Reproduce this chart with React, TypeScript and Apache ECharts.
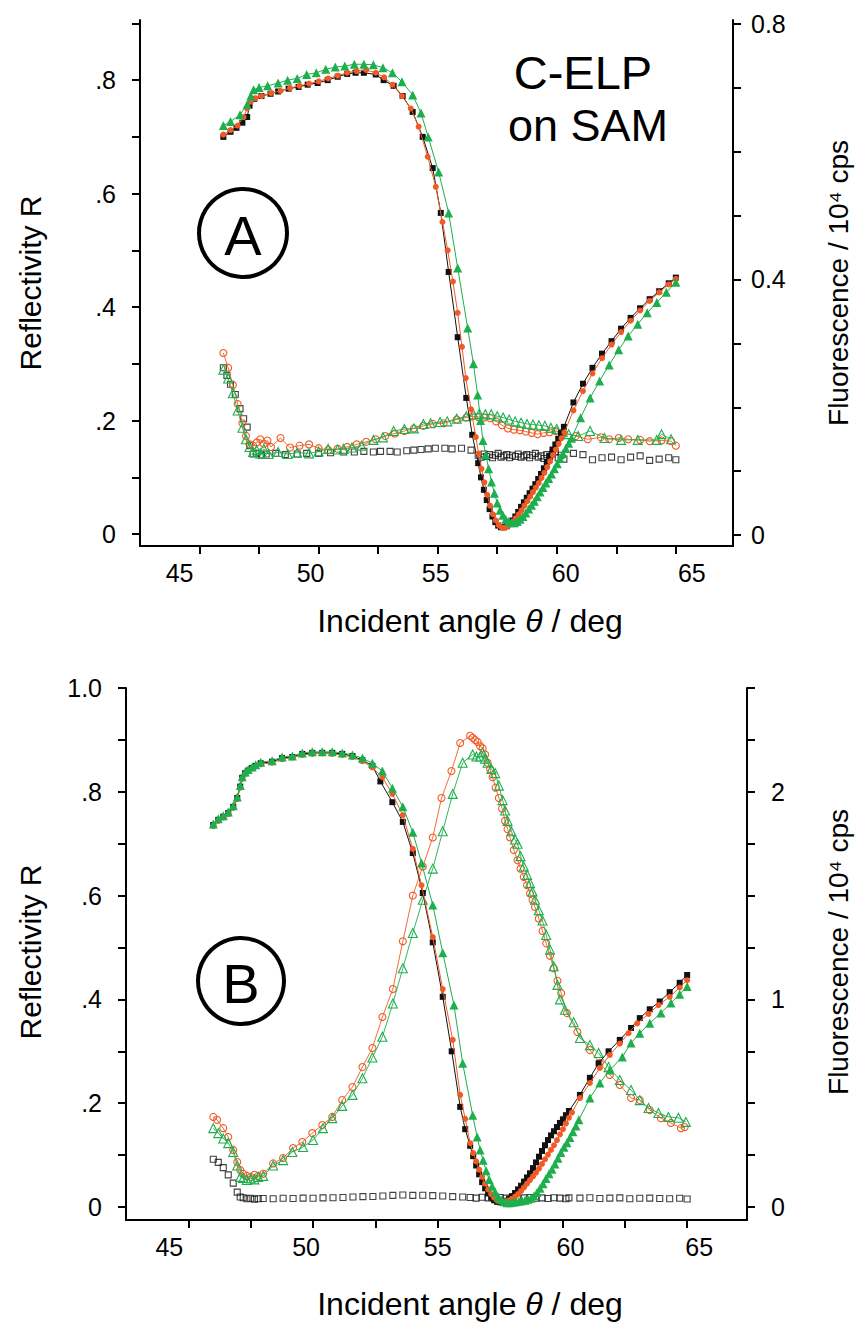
import React, { useEffect, useRef } from 'react';
import * as echarts from 'echarts';

const FONT = '"Liberation Sans", Arial, Helvetica, sans-serif';
const BLACK = '#111111';
const ORANGE = '#f15a24';
const GREEN = '#1daf4e';

// ---------- Panel A : reflectivity (left axis) ----------
const aReflBlack = [[46.0,0.700],[46.3,0.709],[46.55,0.716],[46.8,0.725],[47.0,0.735],[47.1,0.755],[47.3,0.767],[47.6,0.772],[47.98,0.776],[48.3,0.780],[48.74,0.785],[49.16,0.788],[49.54,0.792],[49.96,0.795],[50.38,0.800],[50.8,0.806],[51.2,0.811],[51.55,0.813],[51.9,0.813],[52.4,0.810],[52.73,0.800],[53.15,0.790],[53.53,0.772],[53.95,0.744],[54.37,0.700],[54.79,0.645],[55.13,0.566],[55.46,0.462],[55.84,0.347],[56.2,0.240],[56.45,0.175],[56.7,0.125],[56.82,0.100],[56.94,0.078],[57.06,0.060],[57.18,0.044],[57.3,0.031],[57.42,0.021],[57.54,0.015],[57.66,0.012],[57.78,0.012],[57.9,0.014],[58.02,0.018],[58.14,0.024],[58.26,0.031],[58.38,0.039],[58.5,0.048],[58.62,0.056],[58.74,0.064],[58.86,0.072],[58.98,0.080],[59.1,0.088],[59.22,0.097],[59.34,0.106],[59.46,0.116],[59.58,0.127],[59.7,0.138],[59.82,0.149],[59.94,0.158],[60.06,0.168],[60.18,0.178],[60.3,0.189],[60.7,0.232],[61.1,0.265],[61.5,0.293],[61.9,0.318],[62.3,0.340],[62.7,0.362],[63.1,0.381],[63.5,0.398],[63.9,0.414],[64.3,0.428],[64.7,0.442],[65.0,0.452]];
const aReflOrange = [[46.0,0.704],[46.3,0.712],[46.6,0.720],[46.85,0.735],[47.0,0.750],[47.15,0.762],[47.35,0.768],[47.6,0.772],[48.0,0.777],[48.4,0.781],[48.8,0.786],[49.2,0.790],[49.6,0.794],[50.0,0.798],[50.4,0.803],[50.8,0.808],[51.2,0.813],[51.6,0.816],[52.0,0.818],[52.4,0.813],[52.75,0.805],[53.1,0.792],[53.5,0.772],[53.87,0.750],[54.2,0.718],[54.58,0.665],[54.92,0.612],[55.2,0.550],[55.42,0.500],[55.64,0.445],[55.84,0.390],[56.02,0.330],[56.18,0.275],[56.4,0.220],[56.6,0.171],[56.72,0.142],[56.84,0.115],[56.96,0.091],[57.08,0.069],[57.2,0.050],[57.32,0.035],[57.44,0.024],[57.56,0.016],[57.68,0.012],[57.8,0.011],[57.92,0.013],[58.04,0.017],[58.16,0.022],[58.28,0.028],[58.4,0.035],[58.52,0.042],[58.64,0.050],[58.76,0.058],[58.88,0.066],[59.0,0.074],[59.12,0.082],[59.24,0.090],[59.36,0.099],[59.48,0.108],[59.6,0.118],[59.72,0.128],[59.84,0.139],[59.96,0.149],[60.08,0.159],[60.2,0.169],[60.32,0.179],[60.7,0.218],[61.1,0.252],[61.5,0.283],[61.9,0.310],[62.3,0.334],[62.7,0.356],[63.1,0.376],[63.5,0.394],[63.9,0.411],[64.3,0.426],[64.7,0.440],[65.0,0.450]];
const aReflGreen = [[46.0,0.720],[46.3,0.727],[46.7,0.739],[47.0,0.757],[47.15,0.772],[47.27,0.783],[47.5,0.787],[47.86,0.790],[48.3,0.795],[48.7,0.800],[49.1,0.803],[49.5,0.810],[49.9,0.813],[50.3,0.819],[50.7,0.823],[51.1,0.825],[51.5,0.828],[51.9,0.828],[52.3,0.827],[52.7,0.822],[53.1,0.813],[53.5,0.797],[53.95,0.774],[54.3,0.742],[54.6,0.700],[55.04,0.638],[55.46,0.566],[55.84,0.469],[56.26,0.363],[56.5,0.300],[56.68,0.245],[56.8,0.200],[56.9,0.165],[57.02,0.140],[57.14,0.115],[57.26,0.092],[57.38,0.072],[57.5,0.055],[57.62,0.042],[57.74,0.033],[57.86,0.026],[57.98,0.022],[58.1,0.020],[58.22,0.020],[58.34,0.022],[58.46,0.026],[58.58,0.031],[58.7,0.037],[58.82,0.044],[58.94,0.051],[59.06,0.058],[59.18,0.066],[59.3,0.074],[59.42,0.082],[59.54,0.090],[59.66,0.098],[59.78,0.106],[59.9,0.115],[60.02,0.124],[60.14,0.133],[60.26,0.142],[60.38,0.151],[60.5,0.160],[60.62,0.169],[61.0,0.205],[61.4,0.240],[61.8,0.270],[62.2,0.298],[62.6,0.325],[63.0,0.349],[63.4,0.370],[63.8,0.390],[64.2,0.408],[64.6,0.426],[65.0,0.444]];

// ---------- Panel A : fluorescence (right axis, 10^4 cps) ----------
const aFluoBlack = [[46.0,0.262],[46.15,0.250],[46.3,0.236],[46.5,0.220],[46.7,0.198],[46.85,0.182],[47.0,0.169],[47.1,0.140],[47.25,0.127],[47.4,0.128],[47.6,0.125],[47.8,0.127],[48.2,0.128],[48.6,0.126],[49.1,0.127],[49.5,0.128],[50.0,0.128],[50.5,0.129],[51.05,0.130],[51.5,0.130],[51.9,0.131],[52.3,0.130],[52.6,0.131],[53.0,0.131],[53.3,0.130],[53.7,0.132],[54.0,0.133],[54.3,0.134],[54.6,0.135],[54.9,0.136],[55.3,0.136],[55.6,0.135],[56.0,0.136],[56.4,0.133],[56.7,0.125],[56.82,0.122],[56.94,0.127],[57.06,0.123],[57.18,0.126],[57.3,0.121],[57.42,0.125],[57.54,0.128],[57.66,0.122],[57.78,0.124],[57.9,0.126],[58.02,0.121],[58.14,0.125],[58.26,0.123],[58.38,0.127],[58.5,0.122],[58.62,0.124],[58.74,0.126],[58.86,0.121],[58.98,0.125],[59.1,0.128],[59.22,0.122],[59.34,0.124],[59.46,0.120],[59.58,0.126],[59.7,0.123],[59.82,0.127],[59.94,0.130],[60.06,0.121],[60.18,0.125],[60.3,0.119],[60.7,0.128],[61.1,0.126],[61.5,0.118],[61.9,0.121],[62.3,0.122],[62.7,0.118],[63.1,0.122],[63.5,0.124],[63.9,0.117],[64.3,0.119],[64.7,0.121],[65.0,0.118]];
const aFluoOrange = [[46.0,0.285],[46.2,0.262],[46.4,0.235],[46.6,0.205],[46.8,0.175],[46.95,0.155],[47.1,0.142],[47.25,0.140],[47.4,0.145],[47.55,0.150],[47.7,0.143],[47.85,0.148],[48.0,0.138],[48.4,0.152],[48.8,0.137],[49.2,0.140],[49.6,0.142],[50.0,0.136],[50.4,0.133],[50.8,0.135],[51.2,0.138],[51.6,0.142],[52.0,0.146],[52.4,0.150],[52.8,0.155],[53.2,0.159],[53.6,0.163],[54.0,0.167],[54.4,0.171],[54.8,0.174],[55.25,0.175],[55.8,0.181],[56.2,0.184],[56.45,0.186],[56.7,0.185],[56.95,0.184],[57.2,0.183],[57.45,0.178],[57.7,0.172],[57.95,0.167],[58.2,0.165],[58.45,0.164],[58.7,0.162],[58.95,0.160],[59.2,0.158],[59.45,0.160],[59.7,0.161],[59.95,0.163],[60.2,0.160],[60.8,0.155],[61.3,0.150],[61.85,0.153],[62.2,0.150],[62.6,0.152],[63.0,0.150],[63.5,0.149],[63.9,0.147],[64.4,0.148],[64.8,0.147],[65.0,0.140]];
const aFluoGreen = [[46.0,0.259],[46.2,0.245],[46.4,0.222],[46.6,0.195],[46.8,0.168],[46.95,0.150],[47.1,0.138],[47.25,0.130],[47.4,0.133],[47.55,0.128],[47.7,0.135],[47.9,0.127],[48.3,0.130],[48.7,0.127],[49.1,0.129],[49.6,0.128],[50.0,0.131],[50.4,0.135],[50.8,0.134],[51.05,0.135],[51.4,0.137],[51.8,0.140],[52.3,0.149],[52.7,0.153],[53.15,0.163],[53.6,0.166],[54.0,0.167],[54.4,0.174],[54.7,0.175],[55.1,0.177],[55.4,0.178],[55.8,0.182],[56.2,0.186],[56.5,0.189],[56.75,0.190],[57.0,0.189],[57.25,0.189],[57.5,0.186],[57.75,0.184],[58.0,0.181],[58.25,0.178],[58.5,0.176],[58.75,0.174],[59.0,0.173],[59.25,0.172],[59.5,0.171],[59.75,0.168],[60.0,0.166],[60.25,0.162],[60.5,0.158],[60.9,0.155],[61.4,0.163],[62.0,0.152],[62.7,0.149],[63.4,0.149],[64.2,0.149],[64.4,0.158],[64.8,0.150]];

// ---------- Panel B : reflectivity (left axis) ----------
const bReflBlack = [[46.0,0.736],[46.2,0.746],[46.4,0.752],[46.6,0.759],[46.8,0.771],[46.96,0.788],[47.08,0.810],[47.16,0.827],[47.28,0.836],[47.4,0.841],[47.56,0.846],[47.7,0.850],[47.9,0.855],[48.36,0.858],[48.76,0.865],[49.17,0.867],[49.57,0.873],[49.97,0.875],[50.37,0.875],[50.77,0.875],[51.17,0.873],[51.58,0.869],[51.98,0.861],[52.38,0.850],[52.7,0.820],[53.18,0.780],[53.6,0.742],[54.0,0.682],[54.4,0.605],[54.8,0.510],[55.2,0.405],[55.56,0.300],[55.9,0.193],[56.1,0.150],[56.3,0.118],[56.42,0.098],[56.54,0.080],[56.66,0.063],[56.78,0.048],[56.9,0.036],[57.02,0.026],[57.14,0.018],[57.26,0.013],[57.38,0.010],[57.5,0.009],[57.62,0.010],[57.74,0.012],[57.86,0.016],[57.98,0.021],[58.1,0.027],[58.22,0.034],[58.34,0.041],[58.46,0.049],[58.58,0.057],[58.7,0.065],[58.82,0.075],[58.94,0.086],[59.06,0.097],[59.18,0.108],[59.3,0.119],[59.42,0.129],[59.54,0.138],[59.66,0.146],[59.78,0.154],[59.9,0.162],[60.02,0.169],[60.14,0.177],[60.26,0.185],[60.7,0.216],[61.1,0.249],[61.45,0.277],[61.85,0.300],[62.3,0.322],[62.75,0.345],[63.1,0.364],[63.5,0.381],[63.9,0.396],[64.3,0.414],[64.7,0.432],[65.0,0.447]];
const bReflOrange = [[46.0,0.734],[46.2,0.744],[46.4,0.750],[46.6,0.757],[46.8,0.769],[46.96,0.786],[47.08,0.808],[47.16,0.825],[47.28,0.834],[47.4,0.840],[47.56,0.845],[47.7,0.849],[47.9,0.853],[48.36,0.856],[48.76,0.863],[49.17,0.866],[49.57,0.871],[49.97,0.873],[50.37,0.874],[50.77,0.873],[51.17,0.871],[51.58,0.867],[51.98,0.859],[52.38,0.847],[52.78,0.828],[53.18,0.796],[53.6,0.755],[54.0,0.690],[54.35,0.620],[54.8,0.520],[55.2,0.420],[55.6,0.322],[55.9,0.216],[56.1,0.170],[56.3,0.123],[56.42,0.104],[56.54,0.088],[56.66,0.072],[56.78,0.058],[56.9,0.045],[57.02,0.034],[57.14,0.025],[57.26,0.018],[57.38,0.013],[57.5,0.011],[57.62,0.010],[57.74,0.011],[57.86,0.013],[57.98,0.016],[58.1,0.020],[58.22,0.025],[58.34,0.031],[58.46,0.038],[58.58,0.045],[58.7,0.052],[58.82,0.059],[58.94,0.066],[59.06,0.074],[59.18,0.083],[59.3,0.092],[59.42,0.101],[59.54,0.110],[59.66,0.119],[59.78,0.129],[59.9,0.140],[60.02,0.150],[60.14,0.161],[60.26,0.172],[60.38,0.182],[60.7,0.210],[61.1,0.239],[61.5,0.268],[61.9,0.293],[62.3,0.315],[62.65,0.335],[63.0,0.354],[63.45,0.372],[63.85,0.389],[64.3,0.405],[64.7,0.423],[65.0,0.437]];
const bReflGreen = [[46.0,0.738],[46.2,0.748],[46.4,0.754],[46.6,0.761],[46.8,0.773],[46.96,0.790],[47.08,0.812],[47.16,0.829],[47.28,0.838],[47.4,0.843],[47.56,0.848],[47.7,0.852],[47.9,0.857],[48.36,0.860],[48.76,0.867],[49.17,0.869],[49.57,0.875],[49.97,0.877],[50.37,0.877],[50.77,0.877],[51.17,0.875],[51.58,0.871],[51.98,0.865],[52.38,0.855],[52.78,0.840],[53.18,0.807],[53.6,0.771],[54.0,0.722],[54.35,0.663],[54.8,0.582],[55.2,0.490],[55.65,0.389],[56.0,0.277],[56.4,0.177],[56.58,0.135],[56.7,0.110],[56.82,0.090],[56.94,0.070],[57.06,0.053],[57.18,0.040],[57.3,0.029],[57.42,0.020],[57.54,0.014],[57.66,0.010],[57.78,0.008],[57.9,0.008],[58.02,0.009],[58.14,0.010],[58.26,0.011],[58.38,0.012],[58.5,0.013],[58.62,0.015],[58.74,0.017],[58.86,0.021],[58.98,0.028],[59.1,0.036],[59.22,0.045],[59.34,0.055],[59.46,0.064],[59.58,0.073],[59.7,0.083],[59.82,0.094],[59.94,0.105],[60.06,0.115],[60.18,0.124],[60.3,0.134],[60.42,0.145],[60.54,0.156],[60.66,0.168],[61.1,0.210],[61.5,0.239],[61.9,0.264],[62.4,0.289],[62.75,0.316],[63.1,0.335],[63.5,0.354],[63.95,0.374],[64.35,0.393],[64.7,0.410],[65.0,0.425]];

// ---------- Panel B : fluorescence (right axis, 10^4 cps) ----------
const bFluoBlack = [[46.0,0.230],[46.2,0.215],[46.4,0.190],[46.6,0.155],[46.8,0.115],[46.96,0.072],[47.08,0.048],[47.2,0.045],[47.35,0.040],[47.5,0.042],[47.65,0.038],[47.8,0.040],[48.0,0.041],[48.4,0.040],[48.8,0.042],[49.2,0.041],[49.6,0.043],[50.0,0.042],[50.4,0.044],[50.8,0.045],[51.2,0.046],[51.6,0.048],[52.0,0.050],[52.4,0.051],[52.8,0.053],[53.2,0.056],[53.6,0.058],[54.0,0.056],[54.4,0.057],[54.8,0.055],[55.2,0.053],[55.6,0.050],[56.0,0.048],[56.3,0.046],[56.54,0.043],[56.78,0.047],[57.02,0.044],[57.26,0.042],[57.5,0.046],[57.74,0.043],[57.98,0.045],[58.22,0.041],[58.46,0.044],[58.7,0.046],[58.94,0.042],[59.18,0.044],[59.42,0.041],[59.66,0.045],[59.9,0.043],[60.14,0.040],[60.26,0.044],[60.7,0.043],[61.1,0.045],[61.5,0.041],[61.9,0.043],[62.3,0.044],[62.7,0.040],[63.1,0.042],[63.5,0.043],[63.9,0.041],[64.3,0.040],[64.7,0.042],[65.0,0.039]];
const bFluoOrange = [[46.0,0.434],[46.15,0.420],[46.4,0.380],[46.6,0.337],[46.8,0.275],[46.96,0.217],[47.08,0.178],[47.2,0.160],[47.35,0.150],[47.5,0.145],[47.65,0.155],[47.8,0.150],[48.0,0.160],[48.4,0.210],[48.8,0.236],[49.2,0.284],[49.57,0.313],[49.97,0.356],[50.37,0.395],[50.77,0.434],[51.17,0.515],[51.58,0.578],[51.98,0.674],[52.38,0.766],[52.78,0.915],[53.2,1.05],[53.6,1.28],[54.0,1.50],[54.4,1.64],[54.8,1.78],[55.15,1.97],[55.55,2.10],[55.9,2.235],[56.3,2.27],[56.4,2.26],[56.5,2.25],[56.6,2.24],[56.7,2.22],[56.8,2.21],[56.9,2.18],[57.0,2.14],[57.1,2.11],[57.2,2.07],[57.32,2.02],[57.45,1.97],[57.58,1.92],[57.7,1.86],[57.8,1.82],[57.9,1.78],[58.05,1.72],[58.2,1.67],[58.32,1.63],[58.45,1.59],[58.58,1.55],[58.7,1.51],[58.8,1.48],[58.9,1.445],[59.05,1.39],[59.2,1.33],[59.35,1.27],[59.5,1.21],[59.65,1.15],[59.8,1.09],[59.95,1.03],[60.18,0.934],[60.6,0.843],[61.1,0.756],[61.5,0.694],[61.9,0.636],[62.3,0.588],[62.75,0.525],[63.1,0.515],[63.5,0.467],[63.95,0.428],[64.35,0.405],[64.75,0.380],[64.9,0.385]];
const bFluoGreen = [[46.0,0.380],[46.2,0.356],[46.4,0.330],[46.6,0.308],[46.8,0.265],[46.96,0.200],[47.08,0.145],[47.2,0.140],[47.35,0.130],[47.5,0.138],[47.65,0.133],[47.8,0.145],[48.0,0.150],[48.4,0.200],[48.8,0.226],[49.17,0.265],[49.6,0.289],[50.0,0.323],[50.4,0.380],[50.77,0.428],[51.17,0.487],[51.58,0.540],[51.98,0.620],[52.38,0.720],[52.78,0.820],[53.2,0.980],[53.6,1.15],[54.0,1.32],[54.4,1.48],[54.8,1.63],[55.2,1.81],[55.6,1.99],[56.0,2.14],[56.4,2.18],[56.55,2.17],[56.7,2.17],[56.8,2.19],[56.9,2.16],[57.0,2.14],[57.15,2.11],[57.3,2.09],[57.45,2.03],[57.6,1.96],[57.7,1.91],[57.8,1.86],[57.95,1.81],[58.1,1.77],[58.2,1.75],[58.32,1.69],[58.45,1.64],[58.58,1.60],[58.7,1.56],[58.8,1.52],[58.9,1.48],[59.05,1.43],[59.2,1.38],[59.35,1.31],[59.5,1.24],[59.65,1.16],[59.8,1.07],[59.9,1.00],[60.1,0.950],[60.45,0.890],[60.7,0.814],[61.1,0.780],[61.45,0.742],[61.85,0.674],[62.3,0.612],[62.75,0.564],[63.1,0.515],[63.45,0.477],[63.85,0.453],[64.25,0.434],[64.65,0.430],[64.95,0.410]];

// ---------- tick values ----------
const xTickValues = [45, 47.5, 50, 52.5, 55, 57.5, 60, 62.5, 65];
const xLabelValues = [45, 50, 55, 60, 65];
const aLeftTicks = [0, 0.1, 0.2, 0.3, 0.4, 0.5, 0.6, 0.7, 0.8, 0.9];
const aLeftLabels = [0, 0.2, 0.4, 0.6, 0.8];
const aRightTicks = [0, 0.1, 0.2, 0.3, 0.4, 0.5, 0.6, 0.7, 0.8];
const aRightLabels = [0, 0.4, 0.8];
const bLeftTicks = [0, 0.1, 0.2, 0.3, 0.4, 0.5, 0.6, 0.7, 0.8, 0.9, 1.0];
const bLeftLabels = [0, 0.2, 0.4, 0.6, 0.8, 1.0];
const bRightTicks = [0, 0.25, 0.5, 0.75, 1, 1.25, 1.5, 1.75, 2, 2.25, 2.5];
const bRightLabels = [0, 1, 2];

const leftFmt = (v: number) => (v === 0 ? '0' : v >= 0.999 ? '1.0' : '.' + Math.round(v * 10));
const LABEL_SIZE = 25;

// horizontal nudges of the x tick labels (the printed labels sit slightly off their ticks)
function xLabelRich(shifts: number[]) {
  const rich: any = {};
  xLabelValues.forEach((v, i) => {
    const s = shifts[i];
    rich['s' + v] = {
      fontSize: LABEL_SIZE, fontFamily: FONT, color: '#000',
      padding: s < 0 ? [0, -2 * s, 0, 0] : [0, 0, 0, 2 * s],
    };
  });
  return rich;
}

function axisBase() {
  return {
    type: 'value' as const,
    axisLine: { show: true, onZero: false, lineStyle: { color: '#000', width: 2 } },
    axisTick: { show: true, inside: false, length: 8, lineStyle: { color: '#000', width: 2 } },
    axisLabel: { color: '#000', fontSize: LABEL_SIZE, fontFamily: FONT },
    splitLine: { show: false },
  };
}

function xAxis(grid: number, shifts: number[]) {
  const b = axisBase();
  return {
    ...b,
    gridIndex: grid,
    position: 'bottom',
    min: 42.5,
    max: 67.4,
    axisTick: { ...b.axisTick, customValues: xTickValues },
    axisLabel: {
      ...b.axisLabel, customValues: xLabelValues, margin: 14,
      formatter: (v: number) => '{s' + v + '|' + v + '}',
      rich: xLabelRich(shifts),
    },
  };
}

function yAxis(grid: number, pos: 'left' | 'right', min: number, max: number, ticks: number[], labels: number[], fmt: (v: number) => string, margin: number) {
  const b = axisBase();
  return {
    ...b,
    gridIndex: grid,
    position: pos,
    min,
    max,
    axisTick: { ...b.axisTick, customValues: ticks },
    axisLabel: { ...b.axisLabel, customValues: labels, formatter: fmt, margin },
  };
}

function reflSeries(data: number[][], xi: number, yi: number, color: string, symbol: string, size: number, z: number) {
  return {
    type: 'line', xAxisIndex: xi, yAxisIndex: yi, data, symbol, symbolSize: size,
    itemStyle: { color }, lineStyle: { color, width: 1 }, z, silent: true,
  };
}

function fluoSeries(data: number[][], xi: number, yi: number, color: string, symbol: string, size: number, z: number, withLine: boolean) {
  return {
    type: withLine ? 'line' : 'scatter', xAxisIndex: xi, yAxisIndex: yi, data, symbol, symbolSize: size,
    itemStyle: { color: 'rgba(255,255,255,0)', borderColor: color, borderWidth: 1.1 },
    lineStyle: { color, width: 0.9 }, z, silent: true,
  };
}

const ALIGN = { align: 'center', verticalAlign: 'middle', textAlign: 'center', textVerticalAlign: 'middle' };

function vText(x: number, y: number, text: string, fontSize: number) {
  return {
    type: 'text', x, y, rotation: Math.PI / 2,
    style: { text, fontSize, fontFamily: FONT, fill: '#000', ...ALIGN },
  };
}
function hText(x: number, y: number, text: string, fontSize: number) {
  return {
    type: 'text', x, y,
    style: { text, fontSize, fontFamily: FONT, fill: '#000', ...ALIGN },
  };
}
function xTitle(x: number, y: number) {
  return {
    type: 'text', x, y,
    style: {
      text: '{n|Incident angle }{i|\u03b8}{n| / deg}',
      fontSize: 32, fontFamily: FONT, fill: '#000', ...ALIGN,
      rich: {
        n: { fontSize: 32, fontFamily: FONT, fill: '#000', color: '#000' },
        i: { fontSize: 32, fontFamily: FONT, fontStyle: 'italic', fill: '#000', color: '#000' },
      },
    },
  };
}

export default function App() {
  const ref = useRef<HTMLDivElement>(null);
  useEffect(() => {
    const chart = echarts.init(ref.current!, null, { renderer: 'svg' });
    const option: any = {
      animation: false,
      backgroundColor: '#fff',
      grid: [
        { left: 140, top: 20, width: 593, height: 526 },
        { left: 126, top: 688, width: 621, height: 532 },
      ],
      xAxis: [xAxis(0, [-20, -8, -2, 9, 16]), xAxis(1, [-19, -7, 0, 8, 12])],
      yAxis: [
        yAxis(0, 'left', -0.021, 0.906, aLeftTicks, aLeftLabels, leftFmt, 24),
        yAxis(0, 'right', -0.017, 0.806, aRightTicks, aRightLabels, (v: number) => (v === 0 ? '0' : v.toFixed(1)), 18),
        yAxis(1, 'left', -0.025, 1.0, bLeftTicks, bLeftLabels, leftFmt, 24),
        yAxis(1, 'right', -0.0625, 2.5, bRightTicks, bRightLabels, (v: number) => String(v), 24),
      ],
      series: [
        fluoSeries(aFluoBlack, 0, 1, BLACK, 'rect', 6, 2, false),
        fluoSeries(aFluoOrange, 0, 1, ORANGE, 'circle', 7, 3, true),
        fluoSeries(aFluoGreen, 0, 1, GREEN, 'triangle', 9, 4, true),
        reflSeries(aReflBlack, 0, 0, BLACK, 'rect', 6, 5),
        reflSeries(aReflOrange, 0, 0, ORANGE, 'circle', 6, 6),
        reflSeries(aReflGreen, 0, 0, GREEN, 'triangle', 9, 7),
        fluoSeries(bFluoBlack, 1, 3, BLACK, 'rect', 6, 2, false),
        fluoSeries(bFluoOrange, 1, 3, ORANGE, 'circle', 7, 3, true),
        fluoSeries(bFluoGreen, 1, 3, GREEN, 'triangle', 9, 4, true),
        reflSeries(bReflBlack, 1, 2, BLACK, 'rect', 6, 5),
        reflSeries(bReflOrange, 1, 2, ORANGE, 'circle', 6, 6),
        reflSeries(bReflGreen, 1, 2, GREEN, 'triangle', 9, 7),
      ],
      graphic: [
        vText(30, 283, 'Reflectivity R', 30),
        vText(838, 283, 'Fluorescence / 10\u2074 cps', 28),
        xTitle(470, 621),
        vText(30, 952, 'Reflectivity R', 30),
        vText(838, 952, 'Fluorescence / 10\u2074 cps', 28),
        xTitle(470, 1304),
        hText(583, 72, 'C-ELP', 47),
        hText(588, 125, 'on SAM', 45),
        { type: 'circle', shape: { cx: 243, cy: 233, r: 44 }, style: { fill: 'none', stroke: '#000', lineWidth: 4 } },
        hText(243, 235, 'A', 56),
        { type: 'circle', shape: { cx: 241, cy: 981, r: 43 }, style: { fill: 'none', stroke: '#000', lineWidth: 4 } },
        hText(241, 983, 'B', 56),
      ],
    };
    chart.setOption(option);
    return () => chart.dispose();
  }, []);
  return (
    <div
      ref={ref}
      style={{ position: 'absolute', left: 0, top: 0, width: 867, height: 1330, background: '#fff' }}
    />
  );
}
